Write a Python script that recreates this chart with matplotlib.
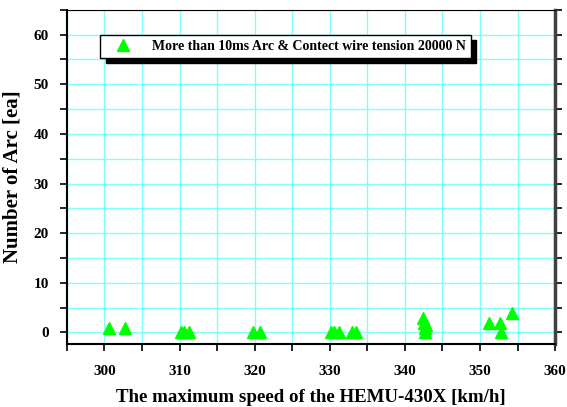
import numpy as np
import matplotlib
matplotlib.use('Agg')
from matplotlib import pyplot as plt
from matplotlib.ticker import MultipleLocator

# arc events vs. max speed
speed = [300.6, 302.7, 310.2, 310.6, 311.2, 319.8, 320.7,
         330.1, 330.6, 331.2, 332.9, 333.5,
         342.4, 342.6, 342.8, 342.7, 342.7,
         351.2, 352.6, 352.8, 354.3]
arcs = [1, 1, 0, 0, 0, 0, 0,
        0, 0, 0, 0, 0,
        3, 2, 1.5, 1, 0,
        2, 2, 0, 4]
legend_label = 'More than 10ms Arc & Contect wire tension 20000 N'

plt.rcParams['font.family'] = 'Liberation Serif'
plt.rcParams['font.weight'] = 'bold'

fig = plt.figure(figsize=(5.67, 4.07), dpi=100)
ax = fig.add_axes([0.118, 0.155, 0.861, 0.821])

ax.plot(speed, arcs, linestyle='none', marker='^', color='#00ff00',
        markersize=9, label=legend_label, zorder=3)

ax.set_xlim(295, 360)
ax.set_ylim(-2.3, 65)
ax.xaxis.set_major_locator(MultipleLocator(10))
ax.xaxis.set_minor_locator(MultipleLocator(5))
ax.yaxis.set_major_locator(MultipleLocator(10))
ax.yaxis.set_minor_locator(MultipleLocator(5))

ax.grid(True, which='both', color='#80ffff', linewidth=1)
ax.set_axisbelow(True)

ax.tick_params(which='both', direction='out', length=5, width=1.2,
               labelsize=11, top=False, right=True)
ax.tick_params(axis='x', pad=10)
ax.tick_params(axis='y', pad=8)
for lab in ax.get_xticklabels() + ax.get_yticklabels():
    lab.set_fontweight('bold')

ax.spines['left'].set_linewidth(1.5)
ax.spines['bottom'].set_linewidth(1.5)
ax.spines['right'].set_linewidth(2.5)
ax.spines['right'].set_color('#404040')

ax.set_xlabel('The maximum speed of the HEMU-430X [km/h]', fontsize=13.6,
              fontweight='bold', labelpad=8)
ax.set_ylabel('Number of Arc [ea]', fontsize=15, fontweight='bold', labelpad=8)

leg = ax.legend(loc='upper left', bbox_to_anchor=(0.068, 0.925), borderaxespad=0,
                fancybox=False, edgecolor='black', framealpha=1,
                shadow={'color': 'black', 'alpha': 1, 'ox': 4, 'oy': -4},
                prop={'size': 10, 'weight': 'bold'}, handlelength=2.6,
                handletextpad=0.8, borderpad=0.35)
leg.get_frame().set_linewidth(1)

fig.savefig('out.png', dpi=100)
